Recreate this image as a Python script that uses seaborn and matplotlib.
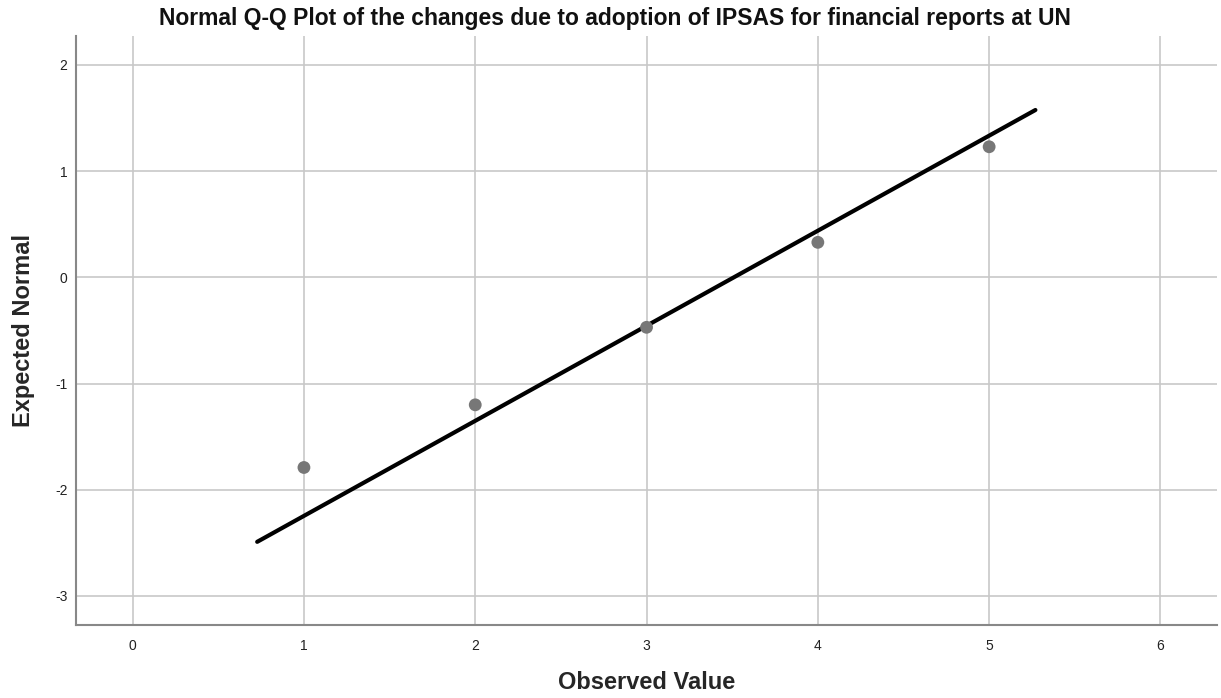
import pandas as pd
import numpy as np
import matplotlib
matplotlib.use("Agg")
import matplotlib.pyplot as plt
import seaborn as sns

observado = [1, 2, 3, 4, 5]
esperado = [-1.79, -1.20, -0.47, 0.33, 1.23]

# reta de referência (extremos)
reta_x = [0.727, 5.27]
reta_y = [-2.49, 1.576]

titulo = "Normal Q-Q Plot of the changes due to adoption of IPSAS for financial reports at UN"

sns.set_theme(style="white")
plt.rcParams['font.family'] = ['Liberation Sans', 'DejaVu Sans']
plt.rcParams['axes.unicode_minus'] = False

df = pd.DataFrame({"Observed Value": observado, "Expected Normal": esperado})
df_reta = pd.DataFrame({"x": reta_x, "y": reta_y})

fig = plt.figure(figsize=(12.21, 6.98), dpi=100)
ax = fig.add_axes([0.0622, 0.1046, 0.9345, 0.8443])

sns.lineplot(data=df_reta, x="x", y="y", ax=ax, color="black", linewidth=3, zorder=3)
sns.scatterplot(data=df, x="Observed Value", y="Expected Normal", ax=ax,
                color="#777777", s=85, edgecolor="none", zorder=4)

ax.set_xlim(-0.331, 6.33)
ax.set_ylim(-3.273, 2.276)
ax.set_xticks(range(0, 7))
ax.set_yticks(range(-3, 3))
ax.grid(True, color="#c8c8c8", linewidth=1.2)
ax.set_axisbelow(True)

for lado in ["top", "right"]:
    ax.spines[lado].set_visible(False)
for lado in ["left", "bottom"]:
    ax.spines[lado].set_color("#888888")
    ax.spines[lado].set_linewidth(1.5)

ax.tick_params(axis="both", labelsize=10, colors="#222222", length=0, pad=10)
ax.tick_params(axis="y", pad=6)
ax.set_xlabel("Observed Value", fontsize=17, fontweight="bold", va="center")
ax.set_ylabel("Expected Normal", fontsize=17, fontweight="bold", va="center")
ax.xaxis.set_label_coords(0.5, -0.097)
ax.yaxis.set_label_coords(-0.0456, 0.5)
ax.set_title(titulo, fontsize=16.5, fontweight="bold", pad=8, color="#111111", x=0.4724)

fig.savefig("out.png", dpi=100)
